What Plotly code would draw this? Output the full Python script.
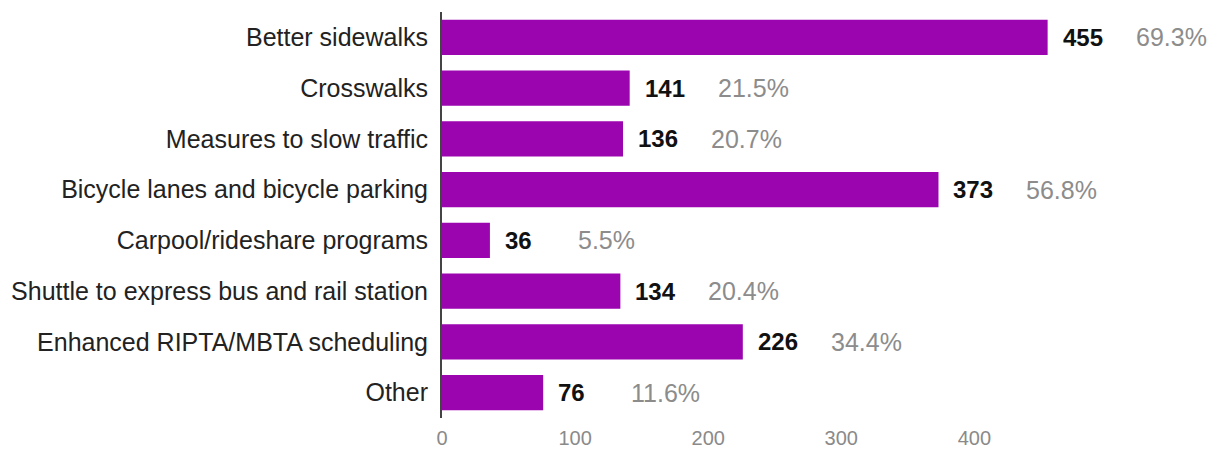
import plotly.graph_objects as go

categories = [
    "Better sidewalks",
    "Crosswalks",
    "Measures to slow traffic",
    "Bicycle lanes and bicycle parking",
    "Carpool/rideshare programs",
    "Shuttle to express bus and rail station",
    "Enhanced RIPTA/MBTA scheduling",
    "Other",
]
counts = [455, 141, 136, 373, 36, 134, 226, 76]
percents = ["69.3%", "21.5%", "20.7%", "56.8%", "5.5%", "20.4%", "34.4%", "11.6%"]
tick_vals = [0, 100, 200, 300, 400]

BAR = "#9b05b0"
FONT = "Liberation Sans, Arial, sans-serif"

fig = go.Figure()
fig.add_trace(go.Bar(
    x=counts, y=categories, orientation="h",
    marker=dict(color=BAR, line=dict(width=0)),
    width=0.69, hoverinfo="x+y",
))

annotations = []
for cat, n, p in zip(categories, counts, percents):
    annotations.append(dict(x=n, y=cat, xref="x", yref="y", text=f"<b>{n}</b>",
                            showarrow=False, xanchor="left", xshift=13,
                            font=dict(family=FONT, size=24, color="#111")))
    annotations.append(dict(x=n, y=cat, xref="x", yref="y", text=p,
                            showarrow=False, xanchor="left", xshift=86,
                            font=dict(family=FONT, size=25, color="#8c8c8c")))

# the page body adds an 8px offset, so margins are shifted to compensate
fig.update_layout(
    width=1218, height=455,
    margin=dict(l=434, r=8, t=4, b=45),
    paper_bgcolor="white", plot_bgcolor="white",
    showlegend=False,
    font=dict(family=FONT),
    annotations=annotations,
    xaxis=dict(range=[0, 583], tickvals=tick_vals, showgrid=False, zeroline=False,
               showline=False, ticks="", automargin=False, ticklabelstandoff=6,
               tickfont=dict(family=FONT, size=20, color="#8a8a8a")),
    yaxis=dict(categoryorder="array", categoryarray=categories[::-1],
               showgrid=False, zeroline=False, automargin=False,
               showline=True, linecolor="#444", linewidth=2, ticks="",
               ticklabelstandoff=7,
               tickfont=dict(family=FONT, size=25, color="#222")),
)

fig.write_html("out.html")
